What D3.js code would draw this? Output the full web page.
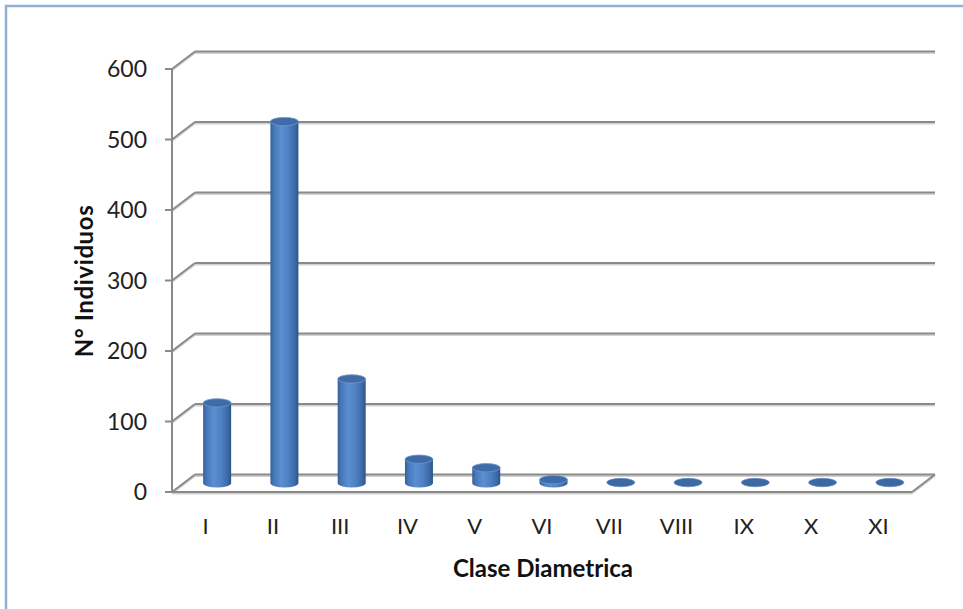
<!DOCTYPE html>
<html><head><meta charset="utf-8">
<script src="https://cdn.jsdelivr.net/npm/d3@7/dist/d3.min.js"></script>
<style>html,body{margin:0;padding:0;background:#fff;}svg{display:block;}</style>
</head><body>
<script>
const categories = ["I","II","III","IV","V","VI","VII","VIII","IX","X","XI"];
const values = [114, 513, 148, 34, 22, 5, 1, 1, 1, 1, 1];
const yTicks = [0, 100, 200, 300, 400, 500, 600];
const yTitle = "N° Individuos";
const xTitle = "Clase Diametrica";

const W = 963, H = 609;
const svg = d3.select("body").append("svg").attr("width", W).attr("height", H);
const defs = svg.append("defs");

const x = d3.scaleBand().domain(categories).range([172, 912]).padding(0);
const y = d3.scaleLinear().domain([0, 600]).range([492, 69]);
const DX = 23, DY = -17.5;   // depth offset of back wall
const cx = d => x(d) + x.bandwidth() / 2 + DX / 2;
const yMid = v => y(v) + DY / 2;
const RX = 14, RY = 4.2;

// frame border
svg.append("rect").attr("x", 6).attr("y", 6).attr("width", W + 20).attr("height", H + 20)
  .attr("fill", "none").attr("stroke", "#93afd6").attr("stroke-width", 2.5);

// gradients
const g1 = defs.append("linearGradient").attr("id", "body").attr("x1", "0").attr("x2", "1").attr("y1", "0").attr("y2", "0");
[["0%", "#365f96"], ["12%", "#4677b8"], ["38%", "#5b8fd2"], ["65%", "#4e80c2"], ["88%", "#3b69a6"], ["100%", "#2c5487"]]
  .forEach(([o, c]) => g1.append("stop").attr("offset", o).attr("stop-color", c));

const gridCol = "#8a8a8a", shadowCol = "#d2d2d2";
const grid = svg.append("g");
function line(x1, y1, x2, y2) {
  grid.append("line").attr("x1", x1).attr("y1", y1 + 1.6).attr("x2", x2).attr("y2", y2 + 1.6)
    .attr("stroke", shadowCol).attr("stroke-width", 1.6);
  grid.append("line").attr("x1", x1).attr("y1", y1).attr("x2", x2).attr("y2", y2)
    .attr("stroke", gridCol).attr("stroke-width", 2);
}
const x0 = x.range()[0], x1 = x.range()[1];
yTicks.forEach(t => {
  line(x0 + DX, y(t) + DY, x1 + DX, y(t) + DY);
  line(x0, y(t), x0 + DX, y(t) + DY);
});
line(x0, y(0), x1, y(0));
line(x1, y(0), x1 + DX, y(0) + DY);
grid.append("line").attr("x1", x0).attr("x2", x0).attr("y1", y(600)).attr("y2", y(0))
  .attr("stroke", gridCol).attr("stroke-width", 2);
yTicks.forEach(t => {
  grid.append("line").attr("x1", x0 - 7).attr("x2", x0).attr("y1", y(t)).attr("y2", y(t))
    .attr("stroke", gridCol).attr("stroke-width", 2);
});

// tick labels
svg.append("g").selectAll("text").data(yTicks).join("text")
  .attr("x", 147).attr("y", d => y(d) + 8.3).attr("text-anchor", "end")
  .attr("font-family", "Lato, sans-serif").attr("font-size", 23).attr("fill", "#222")
  .text(d => d);

// cylinders
const bars = svg.append("g");
categories.forEach((c, i) => {
  const v = values[i];
  const xc = cx(c), yb = yMid(0), yt = yMid(v);
  const g = bars.append("g");
  if (yb - yt > 1.5) {
    g.append("path")
      .attr("d", `M${xc - RX},${yt} L${xc - RX},${yb} A${RX},${RY} 0 0 0 ${xc + RX},${yb} L${xc + RX},${yt} Z`)
      .attr("fill", "url(#body)");
    g.append("ellipse").attr("cx", xc).attr("cy", yt).attr("rx", RX).attr("ry", RY)
      .attr("fill", "#3f6ca9").attr("stroke", "#6f98cf").attr("stroke-width", 0.8);
  } else {
    g.append("ellipse").attr("cx", xc).attr("cy", yt).attr("rx", RX).attr("ry", RY)
      .attr("fill", "#3c68a3").attr("stroke", "#5f88bf").attr("stroke-width", 0.6);
  }
});

// category labels
svg.append("g").selectAll("text").data(categories).join("text")
  .attr("x", d => x(d) + x.bandwidth() / 2).attr("y", 534).attr("text-anchor", "middle")
  .attr("font-family", "Lato, sans-serif").attr("font-size", 22).attr("fill", "#222")
  .text(d => d);

// axis titles
svg.append("text").attr("x", 543).attr("y", 577).attr("text-anchor", "middle")
  .attr("font-family", "Lato, sans-serif").attr("font-weight", "bold").attr("font-size", 24)
  .attr("fill", "#111").text(xTitle);
svg.append("text").attr("transform", "translate(93,281) rotate(-90)").attr("text-anchor", "middle")
  .attr("font-family", "Lato, sans-serif").attr("font-weight", "bold").attr("font-size", 24)
  .attr("letter-spacing", 0.6).attr("fill", "#111").text(yTitle);
</script>
</body></html>
